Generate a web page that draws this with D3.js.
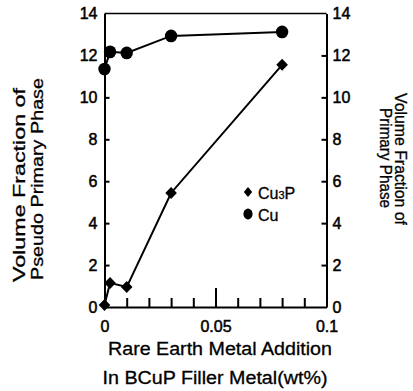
<!DOCTYPE html>
<html>
<head>
<meta charset="utf-8">
<script src="https://cdn.jsdelivr.net/npm/d3@7/dist/d3.min.js"></script>
<style>
  html, body { margin: 0; padding: 0; background: #fff; }
  svg { display: block; }
  text { font-family: "Liberation Sans", Arial, Helvetica, sans-serif; fill: #000; }
  .title { stroke: #000; stroke-width: 0.3; }
</style>
</head>
<body>
<svg id="chart" width="413" height="391"></svg>
<script>
// ---- data ----
const xValues = [0, 0.0025, 0.01, 0.03, 0.08];
const cu3pValues = [0.1, 1.15, 0.95, 5.44, 11.55];
const cuValues = [11.35, 12.17, 12.12, 12.93, 13.12];
const yTicks = [0, 2, 4, 6, 8, 10, 12, 14];
const xTicks = [0, 0.01, 0.02, 0.03, 0.04, 0.05, 0.06, 0.07, 0.08, 0.09, 0.1];
const xTickLabels = { 0: "0", 0.05: "0.05", 0.1: "0.1" };
const legendLabels = ["Cu", "Cu"];

const svg = d3.select("#chart");
const x = d3.scaleLinear().domain([0, 0.1]).range([104.5, 326.5]);
const y = d3.scaleLinear().domain([0, 14]).range([307, 13.5]);

// frame top line
svg.append("line")
  .attr("x1", x(0)).attr("x2", x(0.1))
  .attr("y1", y(14)).attr("y2", y(14))
  .attr("stroke", "#000").attr("stroke-width", 1.6);

// left axis
const yl = svg.append("g").attr("transform", `translate(${x(0)},0)`)
  .call(d3.axisLeft(y).tickValues(yTicks).tickSizeInner(-5).tickSizeOuter(0).tickPadding(7).tickFormat(d3.format("d")));
// right axis
const yr = svg.append("g").attr("transform", `translate(${x(0.1)},0)`)
  .call(d3.axisRight(y).tickValues(yTicks).tickSizeInner(-5).tickSizeOuter(0).tickPadding(6).tickFormat(d3.format("d")));
// bottom axis
const xb = svg.append("g").attr("transform", `translate(0,${y(0)})`)
  .call(d3.axisBottom(x).tickValues(xTicks).tickSizeInner(0).tickSizeOuter(0).tickPadding(13.5)
    .tickFormat(d => xTickLabels[d] !== undefined ? xTickLabels[d] : ""));
xb.selectAll(".tick line")
  .attr("y2", d => (d === 0 || d === 0.1) ? 0 : (Math.abs(d - 0.05) < 1e-9 ? -19 : -9));

[yl, yr, xb].forEach(g => {
  g.select(".domain").attr("stroke", "#000").attr("stroke-width", 2);
  g.selectAll(".tick line").attr("stroke", "#000").attr("stroke-width", 2);
  g.selectAll(".tick text").attr("font-size", 16).attr("font-family", "Liberation Sans, Arial, sans-serif")
    .attr("fill", "#000").attr("stroke", "#000").attr("stroke-width", 0.5);
});
yl.selectAll(".tick line").filter(d => d === 0 || d === 14).remove();
yr.selectAll(".tick line").filter(d => d === 0 || d === 14).remove();

// lines
const line = d3.line().x(d => x(d[0])).y(d => y(d[1]));
const cuPts = xValues.map((v, i) => [v, cuValues[i]]);
const cu3pPts = xValues.map((v, i) => [v, cu3pValues[i]]);
svg.append("path").datum(cuPts).attr("d", line).attr("fill", "none").attr("stroke", "#000").attr("stroke-width", 2);
svg.append("path").datum(cu3pPts).attr("d", line).attr("fill", "none").attr("stroke", "#000").attr("stroke-width", 2);

// markers
const diamond = (cx, cy, w, h) => `M${cx},${cy - h}L${cx + w},${cy}L${cx},${cy + h}L${cx - w},${cy}Z`;
svg.selectAll(".cu").data(cuPts).join("ellipse").attr("class", "cu")
  .attr("cx", d => x(d[0])).attr("cy", d => y(d[1])).attr("rx", 6.2).attr("ry", 6.4).attr("fill", "#000");
svg.selectAll(".cu3p").data(cu3pPts).join("path").attr("class", "cu3p")
  .attr("d", d => diamond(x(d[0]), y(d[1]), 5.8, 6)).attr("fill", "#000");

// legend
svg.append("path").attr("d", diamond(248, 192, 4.2, 5)).attr("fill", "#000");
svg.append("ellipse").attr("cx", 248).attr("cy", 214).attr("rx", 4.6).attr("ry", 5.4).attr("fill", "#000");
const lt1 = svg.append("text").attr("class", "title").attr("x", 258).attr("y", 199).attr("font-size", 16);
lt1.append("tspan").text(legendLabels[0]);
lt1.append("tspan").attr("font-size", 11).text("3");
lt1.append("tspan").text("P");
svg.append("text").attr("class", "title").attr("x", 258).attr("y", 221).attr("font-size", 16).text(legendLabels[1]);

// x title
svg.append("text").attr("class", "title").attr("x", 220).attr("y", 355).attr("text-anchor", "middle").attr("font-size", 18)
  .attr("textLength", 224).attr("lengthAdjust", "spacingAndGlyphs").text("Rare Earth Metal Addition");
svg.append("text").attr("class", "title").attr("x", 215).attr("y", 384).attr("text-anchor", "middle").attr("font-size", 18)
  .attr("textLength", 225).attr("lengthAdjust", "spacingAndGlyphs").text("In BCuP Filler Metal(wt%)");

// left title
svg.append("text").attr("class", "title").attr("transform", "translate(25,185) rotate(-90)").attr("text-anchor", "middle").attr("font-size", 17)
  .attr("textLength", 194).attr("lengthAdjust", "spacingAndGlyphs").text("Volume Fraction  of");
svg.append("text").attr("class", "title").attr("transform", "translate(43,179) rotate(-90)").attr("text-anchor", "middle").attr("font-size", 17)
  .attr("textLength", 202).attr("lengthAdjust", "spacingAndGlyphs").text("Pseudo Primary Phase");

// right title
svg.append("text").attr("class", "title").attr("transform", "translate(395,159) rotate(90)").attr("text-anchor", "middle").attr("font-size", 16)
  .attr("textLength", 132).attr("lengthAdjust", "spacingAndGlyphs").text("Volume Fraction of");
svg.append("text").attr("class", "title").attr("transform", "translate(380,158) rotate(90)").attr("text-anchor", "middle").attr("font-size", 16)
  .attr("textLength", 100).attr("lengthAdjust", "spacingAndGlyphs").text("Primary Phase");
</script>
</body>
</html>
